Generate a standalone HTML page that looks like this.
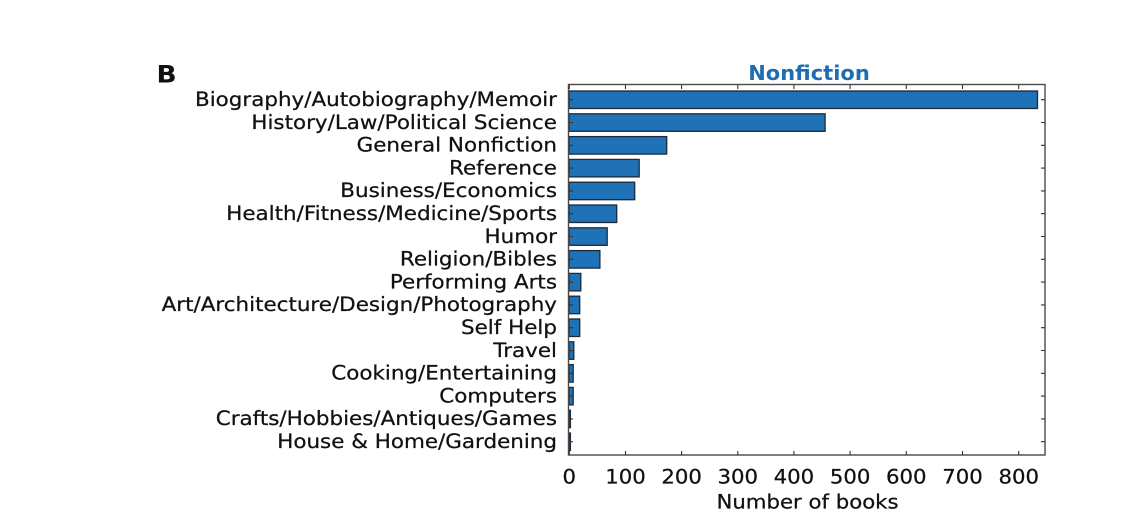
<!DOCTYPE html>
<html>
<head>
<meta charset="utf-8">
<style>
html,body{margin:0;padding:0;background:#fff;}
svg{display:block;}
text{font-family:"DejaVu Sans","Liberation Sans",sans-serif;fill:#111;}
</style>
</head>
<body>
<svg width="1140" height="529" viewBox="0 0 1140 529" xmlns="http://www.w3.org/2000/svg">
<rect x="0" y="0" width="1140" height="529" fill="#fff"/>

<!-- Panel letter -->
<text transform="translate(156.5,82.5) scale(1.1,1)" font-size="24" font-weight="bold">B</text>

<!-- Title -->
<text transform="translate(809,80) scale(1.05,1)" font-size="20" font-weight="bold" text-anchor="middle" style="fill:#1f6db2">Nonfiction</text>

<!-- Bars -->
<g fill="#1f72b6" stroke="#1c2a3a" stroke-width="1.3">
<rect x="569" y="91" width="468.5" height="17.5"/>
<rect x="569" y="113.8" width="256.1" height="17.5"/>
<rect x="569" y="136.6" width="97.7" height="17.5"/>
<rect x="569" y="159.4" width="70.2" height="17.5"/>
<rect x="569" y="182.2" width="65.7" height="17.5"/>
<rect x="569" y="205" width="47.7" height="17.5"/>
<rect x="569" y="227.8" width="38.2" height="17.5"/>
<rect x="569" y="250.6" width="30.9" height="17.5"/>
<rect x="569" y="273.4" width="11.8" height="17.5"/>
<rect x="569" y="296.2" width="10.7" height="17.5"/>
<rect x="569" y="319" width="10.7" height="17.5"/>
<rect x="569" y="341.8" width="4.8" height="17.5"/>
<rect x="569" y="364.6" width="4.2" height="17.5"/>
<rect x="569" y="387.4" width="4.2" height="17.5"/>
<rect x="569" y="410.2" width="1.4" height="17.5"/>
<rect x="569" y="433" width="1.4" height="17.5"/>
</g>

<!-- Frame -->
<rect x="568.5" y="84.5" width="476.5" height="370.5" fill="none" stroke="#4a4a4a" stroke-width="1.4"/>

<!-- Ticks -->
<g stroke="#333" stroke-width="1.1">
<path d="M569 99.7h4M1045 99.7h-4
M569 122.5h4M1045 122.5h-4
M569 145.3h4M1045 145.3h-4
M569 168.1h4M1045 168.1h-4
M569 190.9h4M1045 190.9h-4
M569 213.7h4M1045 213.7h-4
M569 236.5h4M1045 236.5h-4
M569 259.3h4M1045 259.3h-4
M569 282.1h4M1045 282.1h-4
M569 304.9h4M1045 304.9h-4
M569 327.7h4M1045 327.7h-4
M569 350.5h4M1045 350.5h-4
M569 373.3h4M1045 373.3h-4
M569 396.1h4M1045 396.1h-4
M569 418.9h4M1045 418.9h-4
M569 441.7h4M1045 441.7h-4"/>
<path d="M569.3 85v4M569.3 455v-4
M625.5 85v4M625.5 455v-4
M681.6 85v4M681.6 455v-4
M737.8 85v4M737.8 455v-4
M793.9 85v4M793.9 455v-4
M850.1 85v4M850.1 455v-4
M906.3 85v4M906.3 455v-4
M962.5 85v4M962.5 455v-4
M1018.7 85v4M1018.7 455v-4"/>
</g>

<!-- Category labels -->
<g font-size="19.5" text-anchor="end" stroke="#111" stroke-width="0.25">
<text transform="translate(557,106) scale(1.1,1)">Biography/Autobiography/Memoir</text>
<text transform="translate(557,128.8) scale(1.1,1)">History/Law/Political Science</text>
<text transform="translate(557,151.6) scale(1.1,1)">General Nonfiction</text>
<text transform="translate(557,174.4) scale(1.1,1)">Reference</text>
<text transform="translate(557,197.2) scale(1.1,1)">Business/Economics</text>
<text transform="translate(557,220) scale(1.1,1)">Health/Fitness/Medicine/Sports</text>
<text transform="translate(557,242.8) scale(1.1,1)">Humor</text>
<text transform="translate(557,265.6) scale(1.1,1)">Religion/Bibles</text>
<text transform="translate(557,288.4) scale(1.1,1)">Performing Arts</text>
<text transform="translate(557,311.2) scale(1.1,1)">Art/Architecture/Design/Photography</text>
<text transform="translate(557,334) scale(1.1,1)">Self Help</text>
<text transform="translate(557,356.8) scale(1.1,1)">Travel</text>
<text transform="translate(557,379.6) scale(1.1,1)">Cooking/Entertaining</text>
<text transform="translate(557,402.4) scale(1.1,1)">Computers</text>
<text transform="translate(557,425.2) scale(1.1,1)">Crafts/Hobbies/Antiques/Games</text>
<text transform="translate(557,448) scale(1.1,1)">House &amp; Home/Gardening</text>
</g>

<!-- X tick labels -->
<g font-size="19.5" text-anchor="middle" stroke="#111" stroke-width="0.25">
<text transform="translate(569.3,483.5) scale(1.09,1)">0</text>
<text transform="translate(625.5,483.5) scale(1.09,1)">100</text>
<text transform="translate(681.6,483.5) scale(1.09,1)">200</text>
<text transform="translate(737.8,483.5) scale(1.09,1)">300</text>
<text transform="translate(793.9,483.5) scale(1.09,1)">400</text>
<text transform="translate(850.1,483.5) scale(1.09,1)">500</text>
<text transform="translate(906.3,483.5) scale(1.09,1)">600</text>
<text transform="translate(962.5,483.5) scale(1.09,1)">700</text>
<text transform="translate(1018.7,483.5) scale(1.09,1)">800</text>
</g>

<!-- X axis label -->
<text transform="translate(807.5,508.5) scale(1.09,1)" font-size="19.5" text-anchor="middle" stroke="#111" stroke-width="0.25">Number of books</text>
</svg>
</body>
</html>
